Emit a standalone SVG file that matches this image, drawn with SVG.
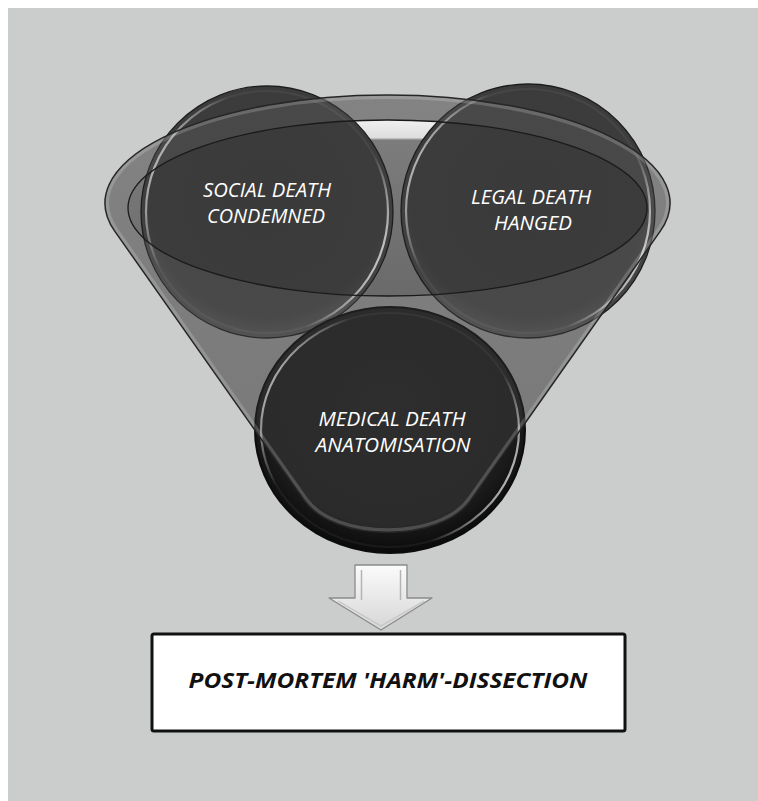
<svg xmlns="http://www.w3.org/2000/svg" width="758" height="801" viewBox="0 0 758 801">
  <style>
    .lbl { font-family: "Open Sans", "Liberation Sans", sans-serif; font-style: italic; font-size: 19.5px; fill: #ffffff; text-anchor: middle; }
    .res { font-family: "Open Sans", "Liberation Sans", sans-serif; font-style: italic; font-weight: bold; font-size: 21px; fill: #111111; text-anchor: middle; }
    .circ { stroke: #1e1e1e; stroke-width: 1.3; }
    .shine { fill: none; stroke: url(#shineStroke); stroke-width: 2.2; }
  </style>
  <defs>
    <linearGradient id="bodyGrad" x1="0" y1="0" x2="0" y2="1">
      <stop offset="0" stop-color="#7a7a7a"/>
      <stop offset="1" stop-color="#6e6e6e"/>
    </linearGradient>
    <linearGradient id="holeGrad" x1="0" y1="0" x2="0" y2="1">
      <stop offset="0" stop-color="#f0f0f0"/>
      <stop offset="0.1" stop-color="#dedede"/>
      <stop offset="0.115" stop-color="#7c7c7c"/>
      <stop offset="1" stop-color="#6a6a6a"/>
    </linearGradient>
    <radialGradient id="circGrad" cx="0.5" cy="0.45" r="0.55">
      <stop offset="0" stop-color="#3a3a3a"/>
      <stop offset="0.85" stop-color="#3c3c3c"/>
      <stop offset="1" stop-color="#474747"/>
    </radialGradient>
    <radialGradient id="medGrad" cx="0.5" cy="0.4" r="0.6">
      <stop offset="0" stop-color="#1f1f1f"/>
      <stop offset="0.8" stop-color="#1b1b1b"/>
      <stop offset="1" stop-color="#0a0a0a"/>
    </radialGradient>
    <linearGradient id="shineStroke" x1="0" y1="0.3" x2="1" y2="0.7">
      <stop offset="0" stop-color="#ffffff" stop-opacity="0.7"/>
      <stop offset="0.2" stop-color="#ffffff" stop-opacity="0.05"/>
      <stop offset="0.8" stop-color="#ffffff" stop-opacity="0.05"/>
      <stop offset="1" stop-color="#ffffff" stop-opacity="0.8"/>
    </linearGradient>
    <linearGradient id="arrowGrad" x1="0" y1="0" x2="0" y2="1">
      <stop offset="0" stop-color="#fbfbfb"/>
      <stop offset="1" stop-color="#d6d6d6"/>
    </linearGradient>
    <path id="funnelOuter" d="M 114.7,231.1 A 282.5 108 0 1 1 660.3,231.1 L 470.9,500 C 441,543 334,543 304.1,500 Z"/>
    <clipPath id="funnelClip"><use href="#funnelOuter"/></clipPath>
  </defs>

  <rect x="8" y="8" width="750" height="793" fill="#cbcdcc"/>

  <g id="funnel-base">
    <use href="#funnelOuter" fill="url(#bodyGrad)"/>
    <ellipse cx="387.5" cy="208" rx="259.5" ry="88" fill="url(#holeGrad)"/>
  </g>

  <g id="node-social">
    <circle cx="267" cy="212" r="126" class="circ" fill="url(#circGrad)"/>
    <circle cx="267" cy="212" r="121" class="shine"/>
    <text class="lbl" x="267" y="197" textLength="128" lengthAdjust="spacingAndGlyphs">SOCIAL DEATH</text>
    <text class="lbl" x="266" y="223" textLength="118" lengthAdjust="spacingAndGlyphs">CONDEMNED</text>
  </g>

  <g id="node-legal">
    <circle cx="528" cy="211" r="127" class="circ" fill="url(#circGrad)"/>
    <circle cx="528" cy="211" r="122" class="shine"/>
    <text class="lbl" x="531" y="204" textLength="120" lengthAdjust="spacingAndGlyphs">LEGAL DEATH</text>
    <text class="lbl" x="533" y="230" textLength="78" lengthAdjust="spacingAndGlyphs">HANGED</text>
  </g>

  <g id="node-medical">
    <ellipse cx="390" cy="430" rx="135" ry="123" fill="url(#medGrad)" stroke="#0c0c0c" stroke-width="2"/>
    <ellipse cx="390" cy="430" rx="129" ry="117" class="shine"/>
    <text class="lbl" x="392" y="426" textLength="147" lengthAdjust="spacingAndGlyphs">MEDICAL DEATH</text>
    <text class="lbl" x="393" y="452" textLength="155" lengthAdjust="spacingAndGlyphs">ANATOMISATION</text>
  </g>

  <g id="funnel-overlay">
    <path d="M 114.7,231.1 A 282.5 108 0 1 1 660.3,231.1 L 470.9,500 C 441,543 334,543 304.1,500 Z M 128,208 A 259.5 88 0 1 0 647,208 A 259.5 88 0 1 0 128,208 Z" fill="#ffffff" fill-opacity="0.07" fill-rule="evenodd"/>
    <use href="#funnelOuter" fill="none" stroke="#ffffff" stroke-opacity="0.18" stroke-width="8" clip-path="url(#funnelClip)"/>
    <use href="#funnelOuter" fill="none" stroke="#262626" stroke-width="1.5"/>
    <ellipse cx="387.5" cy="208" rx="259.5" ry="88" fill="none" stroke="#1a1a1a" stroke-width="1.3"/>
  </g>

  <g id="connectors">
    <polygon points="355,565 407,565 407,598 432,598 381,630 329,598 355,598" fill="url(#arrowGrad)" stroke="#8a8a8a" stroke-width="1.3" stroke-linejoin="round"/>
    <line x1="361.5" y1="570" x2="361.5" y2="600" stroke="#b4b4b4" stroke-width="1.5"/>
    <line x1="400.5" y1="570" x2="400.5" y2="600" stroke="#b4b4b4" stroke-width="1.5"/>
    <polyline points="338,601 381,626 424,601" fill="none" stroke="#c4c4c4" stroke-width="1.2"/>
  </g>

  <g id="node-result">
    <rect x="152" y="634" width="473" height="97" rx="2" fill="#ffffff" stroke="#111111" stroke-width="3"/>
    <text class="res" x="388" y="688" textLength="399" lengthAdjust="spacingAndGlyphs">POST-MORTEM 'HARM'-DISSECTION</text>
  </g>
</svg>
